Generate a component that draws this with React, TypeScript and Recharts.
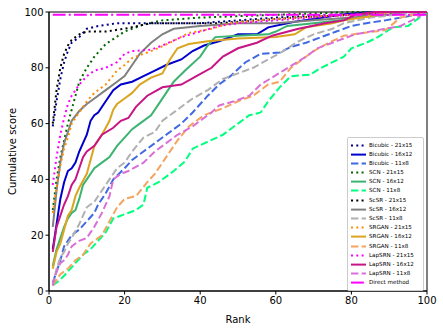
import { LineChart, Line, XAxis, YAxis, ReferenceArea } from 'recharts'

type Pt = [number, number]

// rank -> cumulative score
const BICUBIC_21x15: Pt[] = [[1, 59], [2, 68], [3, 76], [4, 82], [5, 86], [6, 89], [8, 91], [10, 94], [13, 95], [18, 96], [40, 96], [50, 97], [60, 98], [75, 99], [90, 100], [100, 100]]
const BICUBIC_16x12: Pt[] = [[1, 15], [2, 24], [3, 33], [4, 39], [5, 43], [6, 44], [7, 46], [8, 50], [9, 53], [10, 56], [11, 61], [12, 63], [13, 64], [15, 68], [17, 72], [19, 74], [22, 75], [25, 77], [28, 79], [31, 81], [35, 83], [38, 86], [41, 88], [45, 89.5], [50, 92], [55, 92], [58, 94.5], [65, 96.5], [70, 97.5], [77, 99], [85, 100], [100, 100]]
const BICUBIC_11x8: Pt[] = [[1, 3], [2, 7], [3, 11], [4, 16], [5, 18], [6, 20], [8, 22], [10, 25], [12, 28], [13, 31], [15, 35], [17, 40], [20, 44], [22, 47], [25, 50], [28, 53], [32, 57], [35, 60], [38, 64], [42, 70], [45, 74], [48, 77], [52, 82], [56, 85], [61, 85.5], [64, 87.5], [68, 89], [72, 91], [76, 93], [80, 95], [84, 96], [89, 97], [95, 98.5], [100, 100]]
const SCN_21x15: Pt[] = [[1, 29], [2, 40], [3, 48], [4, 54], [5, 60], [6, 65], [7, 70], [8, 75], [10, 80], [12, 84], [15, 88.5], [20, 93], [25, 95.5], [30, 97], [40, 98], [60, 99], [80, 100], [100, 100]]
const SCN_16x12: Pt[] = [[1, 9], [2, 15], [3, 19], [4, 23], [5, 26], [6, 28], [7, 29], [8, 33], [9, 38], [10, 40], [12, 44], [14, 46], [16, 48], [18, 52], [20, 55], [22, 58], [24, 60], [27, 63], [29, 67], [31, 71], [33, 75], [36, 79], [40, 84], [42, 88], [44, 91], [50, 91.5], [58, 92], [60, 93], [63, 95], [70, 96], [80, 97.5], [85, 99.5], [88, 100], [100, 100]]
const SCN_11x8: Pt[] = [[1, 2], [3, 4], [5, 7], [7, 10], [9, 13], [11, 15], [13, 18], [15, 21], [17, 26], [20, 27.5], [23, 29], [25, 31], [26, 37], [29, 39], [33, 43], [36, 46.5], [38, 51], [42, 53.5], [46, 56], [50, 60], [53, 63], [56, 64], [58, 68], [61, 73], [64, 77], [69, 77.5], [72, 80], [75, 82], [78, 84], [80, 87], [84, 89], [87, 91], [91, 94.5], [95, 95], [98, 98], [100, 100]]
const SCSR_21x15: Pt[] = [[1, 60], [2, 72], [3, 80], [4, 85], [5, 88], [6, 90], [8, 92], [10, 93], [15, 93], [20, 94], [27, 96], [45, 96], [55, 97], [65, 98], [80, 99], [95, 100], [100, 100]]
const SCSR_16x12: Pt[] = [[1, 23], [2, 36], [3, 46], [4, 53], [5, 57], [6, 61], [8, 64.5], [10, 67], [12, 69], [15, 72], [18, 75], [20, 77], [22, 81], [24, 85], [27, 89], [30, 92], [33, 94], [40, 95], [50, 96], [60, 96], [70, 97], [80, 98], [90, 99], [95, 100], [100, 100]]
const SCSR_11x8: Pt[] = [[1, 2], [2, 8], [3, 12], [4, 14], [5, 17], [6, 19], [8, 24], [10, 30], [12, 32], [14, 36], [16, 40], [18, 44], [20, 46], [22, 50], [25, 55], [28, 57], [30, 61], [34, 65], [38, 69], [42, 72], [46, 76], [50, 78], [54, 80], [58, 83], [62, 86], [66, 89.5], [70, 92], [75, 94], [78, 96], [85, 98], [92, 99], [100, 100]]
const SRGAN_21x15: Pt[] = [[1, 28], [2, 37], [3, 45], [4, 51], [5, 55], [6, 60], [8, 64], [10, 68], [12, 71], [15, 74], [18, 79], [20, 81], [22, 83.5], [25, 85], [28, 86.5], [32, 89], [37, 92.5], [43, 94], [48, 96], [55, 97], [65, 98], [80, 99], [92, 100], [100, 100]]
const SRGAN_16x12: Pt[] = [[1, 8], [2, 14], [3, 17], [4, 22], [5, 27], [6, 29], [7, 34], [8, 37], [10, 42], [12, 52], [14, 56], [16, 61], [17, 65], [18, 67], [20, 69], [22, 71], [24, 74], [27, 76.5], [30, 78], [32, 83], [34, 87], [37, 88.5], [42, 89.5], [50, 90.5], [60, 91], [65, 92], [68, 94.5], [75, 96], [78, 97], [85, 98.5], [90, 100], [100, 100]]
const SRGAN_11x8: Pt[] = [[1, 2], [2, 4], [3, 6], [5, 8], [7, 11], [9, 13], [11, 17], [14, 20], [16, 25], [18, 30], [20, 33], [23, 34], [26, 39], [28, 42], [31, 48], [34, 54], [37, 59], [41, 63], [46, 65.5], [50, 68], [54, 70], [58, 74], [61, 75], [64, 80], [67, 83], [70, 86], [74, 89], [78, 91.5], [83, 92.5], [89, 93.5], [93, 98], [100, 100]]
const LAPSRN_21x15: Pt[] = [[1, 38], [2, 48], [3, 56], [4, 62], [5, 67], [6, 70], [8, 74], [10, 77], [12, 79], [15, 80], [18, 82], [20, 85], [22, 86], [27, 86.5], [30, 88], [35, 91], [40, 93], [45, 95], [50, 96], [60, 97], [70, 98], [80, 99], [90, 100], [100, 100]]
const LAPSRN_16x12: Pt[] = [[1, 14], [2, 23], [3, 27], [4, 31], [5, 34], [6, 38], [7, 40], [8, 44], [9, 48], [10, 50], [12, 52], [14, 56], [17, 58.5], [19, 61], [21, 62], [23, 66], [26, 70], [30, 73], [35, 74], [39, 77], [43, 80], [46, 84], [50, 87], [55, 89], [59, 91.5], [66, 94], [73, 96], [78, 97], [81, 99], [86, 100], [100, 100]]
const LAPSRN_11x8: Pt[] = [[1, 2], [2, 7], [3, 10], [4, 11], [5, 13], [6, 16], [8, 18], [10, 19], [12, 23], [14, 28], [16, 34], [17, 40], [19, 42], [21, 43], [25, 46], [28, 50], [31, 53], [34, 56], [38, 59], [40, 61], [43, 64], [45, 66.5], [49, 68], [53, 70], [56, 74], [59, 76.5], [62, 79], [65, 81.5], [68, 84], [71, 87], [76, 89.5], [81, 92], [87, 93.5], [93, 95], [96, 97], [100, 100]]
const DIRECT: Pt[] = [[1, 99], [100, 99]]

const AXIS_TICKS = [0, 20, 40, 60, 80, 100]

const DOT = '2 3.3'
const DASH = '7.4 3.2'
const DASHDOT = '12.8 3.2 2 3.2'

const SERIES = [
  { name: 'Bicubic - 21x15', points: BICUBIC_21x15, color: '#00008b', dash: DOT },
  { name: 'Bicubic - 16x12', points: BICUBIC_16x12, color: '#0000cd', dash: undefined },
  { name: 'Bicubic - 11x8', points: BICUBIC_11x8, color: '#4169e1', dash: DASH },
  { name: 'SCN - 21x15', points: SCN_21x15, color: '#006400', dash: DOT },
  { name: 'SCN - 16x12', points: SCN_16x12, color: '#3cb371', dash: undefined },
  { name: 'SCN - 11x8', points: SCN_11x8, color: '#00ff7f', dash: DASH },
  { name: 'ScSR - 21x15', points: SCSR_21x15, color: '#000000', dash: DOT },
  { name: 'ScSR - 16x12', points: SCSR_16x12, color: '#808080', dash: undefined },
  { name: 'ScSR - 11x8', points: SCSR_11x8, color: '#b0b0b0', dash: DASH },
  { name: 'SRGAN - 21x15', points: SRGAN_21x15, color: '#ff8c00', dash: DOT },
  { name: 'SRGAN - 16x12', points: SRGAN_16x12, color: '#daa520', dash: undefined },
  { name: 'SRGAN - 11x8', points: SRGAN_11x8, color: '#f4a460', dash: DASH },
  { name: 'LapSRN - 21x15', points: LAPSRN_21x15, color: '#ff00ff', dash: DOT },
  { name: 'LapSRN - 16x12', points: LAPSRN_16x12, color: '#c71585', dash: undefined },
  { name: 'LapSRN - 11x8', points: LAPSRN_11x8, color: '#da70d6', dash: DASH },
  { name: 'Direct method', points: DIRECT, color: '#ff00ff', dash: DASHDOT },
]

const FONT = 'DejaVu Sans, sans-serif'

// legend drawn as an overlay so it does not eat into the plot area
function LegendBox() {
  return (
    <div
      style={{
        position: 'absolute',
        left: 347,
        top: 137,
        width: 75,
        padding: '2.5px 0 2px 0',
        border: '0.8px solid #cccccc',
        borderRadius: 2,
        background: 'rgba(255,255,255,0.8)',
        fontFamily: FONT,
        fontSize: 5.6,
        color: '#000',
      }}
    >
      {SERIES.map((s) => (
        <div key={s.name} style={{ display: 'flex', alignItems: 'center', height: 9.2 }}>
          <svg width={21} height={9.2} style={{ flexShrink: 0 }}>
            <line x1={3} x2={18} y1={4.6} y2={4.6} stroke={s.color} strokeWidth={2} strokeDasharray={s.dash} />
          </svg>
          <span style={{ whiteSpace: 'nowrap', lineHeight: '9.2px' }}>{s.name}</span>
        </div>
      ))}
    </div>
  )
}

const YLabel = ({ viewBox }: any) => {
  const cy = viewBox.y + viewBox.height / 2
  return (
    <text x={12} y={cy} transform={`rotate(-90, 12, ${cy})`} textAnchor="middle" dominantBaseline="central" fontSize={10} fontFamily={FONT} fill="#000">
      Cumulative score
    </text>
  )
}

export default function App() {
  return (
    <div style={{ position: 'absolute', left: 0, top: 0, width: 443, height: 331, background: '#fff' }}>
      <LineChart width={443} height={331} margin={{ top: 12, right: 16, bottom: 0, left: 0 }}>
        <XAxis
          type="number"
          dataKey="rank"
          domain={[0, 100]}
          ticks={AXIS_TICKS}
          tick={{ fontSize: 10, fill: '#000', fontFamily: FONT }}
          tickSize={3.5}
          tickMargin={2}
          axisLine={{ stroke: '#000' }}
          tickLine={{ stroke: '#000' }}
          height={40}
          allowDuplicatedCategory={false}
          label={{ value: 'Rank', position: 'insideBottom', offset: 8, fontSize: 10, fill: '#000', fontFamily: FONT }}
        />
        <YAxis
          type="number"
          domain={[0, 100]}
          ticks={AXIS_TICKS}
          tick={{ fontSize: 10, fill: '#000', fontFamily: FONT }}
          tickSize={3.5}
          tickMargin={2}
          axisLine={{ stroke: '#000' }}
          tickLine={{ stroke: '#000' }}
          width={49}
          label={<YLabel />}
        />
        {SERIES.map((s) => (
          <Line
            key={s.name}
            name={s.name}
            data={s.points.map(([rank, score]) => ({ rank, score }))}
            dataKey="score"
            type="linear"
            stroke={s.color}
            strokeWidth={2}
            strokeDasharray={s.dash}
            dot={false}
            activeDot={false}
            isAnimationActive={false}
          />
        ))}
        <ReferenceArea x1={0} x2={100} y1={0} y2={100} fill="none" fillOpacity={0} stroke="#000" strokeWidth={1} />
      </LineChart>
      <LegendBox />
    </div>
  )
}
